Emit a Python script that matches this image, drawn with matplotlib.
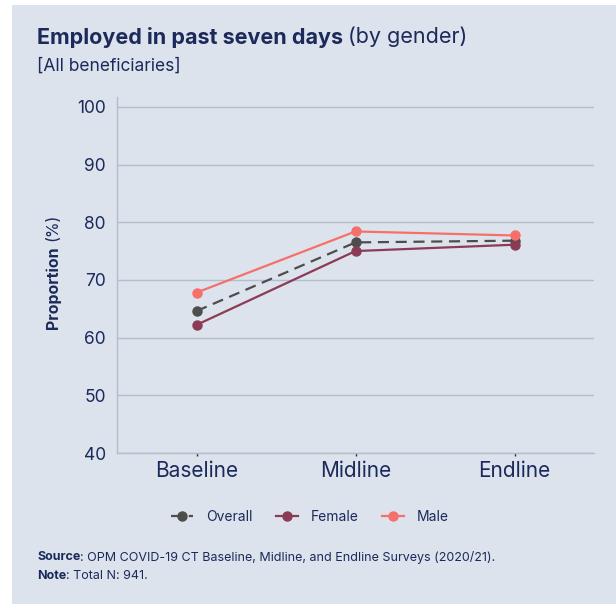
import matplotlib
matplotlib.use("Agg")
import matplotlib.pyplot as plt
from matplotlib.patches import Rectangle

plt.rcParams['font.family'] = ['Inter', 'DejaVu Sans']

rounds = ["Baseline", "Midline", "Endline"]
overall = [64.6, 76.5, 76.8]
female = [62.2, 75.0, 76.1]
male = [67.8, 78.4, 77.7]
y_ticks = [40, 50, 60, 70, 80, 90, 100]

navy = "#1b2a5a"
panel_bg = "#dce3ec"
grid_col = "#b2bec9"

W, H = 616, 604
fig = plt.figure(figsize=(W / 100, H / 100), dpi=100, facecolor="white")
fig.patches.append(Rectangle((12 / W, 0), 1 - 12 / W, 1 - 5 / H,
                             transform=fig.transFigure, facecolor=panel_bg,
                             edgecolor="none", zorder=-10))

ax = fig.add_axes([117 / W, 1 - 453 / H, (594 - 117) / W, (453 - 97) / H])
ax.set_facecolor("none")

x = list(range(len(rounds)))
ax.plot(x, overall, color="#4d4d4d", lw=1.6, ls=(0, (5, 3)), marker="o",
        ms=6.5, label="Overall", zorder=3)
ax.plot(x, female, color="#8b3b55", lw=1.6, marker="o", ms=6.5,
        label="Female", zorder=3)
ax.plot(x, male, color="#f5706a", lw=1.6, marker="o", ms=6.5,
        label="Male", zorder=4)

ax.set_xlim(-0.5, 2.5)
ax.set_ylim(40, 101.7)
ax.set_yticks(y_ticks)
ax.set_yticklabels([str(v) for v in y_ticks], fontsize=12.5, color=navy)
ax.set_xticks(x)
ax.set_xticklabels(rounds, fontsize=15, color=navy)
ax.tick_params(axis="y", length=0, pad=8)
ax.tick_params(axis="x", length=2, width=1, color="#333333", pad=4)

ax.grid(axis="y", color=grid_col, lw=1)
ax.set_axisbelow(True)
for side in ["top", "right"]:
    ax.spines[side].set_visible(False)
for side in ["left", "bottom"]:
    ax.spines[side].set_color(grid_col)
    ax.spines[side].set_linewidth(1)

# y-axis title: bold word followed by regular unit
fig.text(53 / W, 1 - 288 / H, "Proportion", rotation=90, fontsize=11.5,
         fontweight="bold", color=navy, ha="center", va="center")
fig.text(53 / W, 1 - 227 / H, "(%)", rotation=90, fontsize=11.5,
         color=navy, ha="center", va="center")

# title and subtitle
t = fig.text(37 / W, 1 - 37 / H, "Employed in past seven days", fontsize=15.5,
             fontweight="bold", color=navy, va="center", ha="left")
fig.canvas.draw()
bb = t.get_window_extent()
fig.text((bb.x1 + 5) / W, 1 - 37 / H, "(by gender)", fontsize=15.5,
         color=navy, va="center", ha="left")
fig.text(37 / W, 1 - 66 / H, "[All beneficiaries]", fontsize=12.5,
         color=navy, va="center", ha="left")

leg = fig.legend(loc="center", bbox_to_anchor=(310 / W, 1 - 517 / H), ncol=3,
                 frameon=False, fontsize=10, handlelength=1.6,
                 columnspacing=1.7, handletextpad=0.9, labelcolor=navy)

# source and note lines
s = fig.text(37 / W, 1 - 557 / H, "Source", fontsize=9, fontweight="bold",
             color=navy, va="center", ha="left")
fig.canvas.draw()
sb = s.get_window_extent()
fig.text(sb.x1 / W, 1 - 557 / H,
         ": OPM COVID-19 CT Baseline, Midline, and Endline Surveys (2020/21).",
         fontsize=9, color=navy, va="center", ha="left")
n = fig.text(37 / W, 1 - 576 / H, "Note", fontsize=9, fontweight="bold",
             color=navy, va="center", ha="left")
fig.canvas.draw()
nb = n.get_window_extent()
fig.text(nb.x1 / W, 1 - 576 / H, ": Total N: 941.", fontsize=9,
         color=navy, va="center", ha="left")

fig.savefig("out.png", dpi=100, facecolor="white")
